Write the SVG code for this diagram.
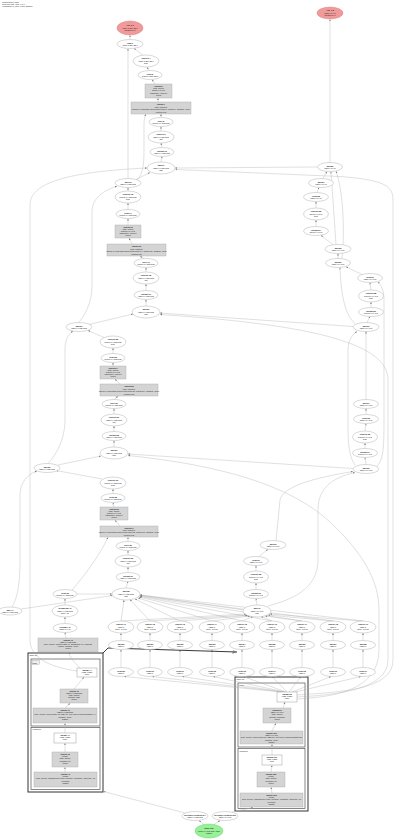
<svg xmlns="http://www.w3.org/2000/svg" width="400" height="839" viewBox="0 0 400 839">
<style>
.e{fill:#fff;stroke:#a0a0a0;stroke-width:.4}
.pr{fill:#f29a9a;stroke:#c77;stroke-width:.4}
.gr{fill:#98f098;stroke:#5c5;stroke-width:.4}
.bx{fill:#d4d4d4;stroke:#a8a8a8;stroke-width:.4}
.wb{fill:#fff;stroke:#888;stroke-width:.4}
.cl{fill:none;stroke:#333;stroke-width:1}
.ci{fill:none;stroke:#555;stroke-width:.7}
text{font-family:"Liberation Sans",Arial,sans-serif;font-size:2.1px;fill:#222;text-anchor:middle}
.h{font-weight:bold}
.l{text-anchor:start}
#edges path{fill:none;stroke:#b0b0b0;stroke-width:.4;marker-end:url(#a)}
#edges path.k{stroke:#222;stroke-width:.9}
</style>
<defs>
<marker id="a" viewBox="0 0 10 10" refX="10" refY="5" markerWidth="5" markerHeight="5" orient="auto"><path d="M0,1L10,5L0,9z" fill="#777"/></marker>
</defs>
<g id="header">
<text class="l" x="2" y="2.6">computation_main</text>
<text class="l" x="2" y="4.8">Unrolled loop, step 4 of 4</text>
<text class="l" x="2" y="7">HloModule jit_step, entry: ENTRY</text>
</g>
<g id="clusters">
<rect class="cl" x="28" y="653" width="75" height="139"/>
<rect class="ci" x="31" y="659" width="69" height="67"/>
<rect class="ci" x="31" y="727.5" width="69" height="62"/>
<text class="l" x="29.5" y="656">while.12</text>
<rect x="32" y="660.5" width="7.5" height="4" fill="#eee" stroke="#888" stroke-width=".3"/>
<text class="l" x="32.5" y="663.5">body</text>
<text class="l" x="32.5" y="730">condition</text>
<rect class="cl" x="235" y="677" width="73" height="134"/>
<rect class="ci" x="238" y="683" width="67" height="64"/>
<rect class="ci" x="238" y="748.5" width="67" height="60"/>
<text class="l" x="236.5" y="680">while.13</text>
<text class="l" x="239.5" y="686">body</text>
<text class="l" x="239.5" y="751.5">condition</text>
</g>
<g id="edges">
<path d="M130,39.5L130,35.3"/>
<path d="M143,55.3L134,48.3"/>
<path d="M149,70.5L147,67.2"/>
<path d="M155,84L152,79.5"/>
<path d="M158,102L158,98"/>
<path d="M161,117.5L161,114"/>
<path d="M161,131L161,126.5"/>
<path d="M162,147.5L161,143"/>
<path d="M161,162L162,156.5"/>
<path d="M128,178.5L128,48.6"/>
<path d="M136,179.5L150,172.5"/>
<path d="M137,180C143,174 144,165 144,150L144,125C144,119 145,116 146,114.2"/>
<path d="M128,191L128,187.5"/>
<path d="M128,209.5L128,203"/>
<path d="M128,225L128,218.5"/>
<path d="M132,244L129,238.2"/>
<path d="M144,258.5L140,256.2"/>
<path d="M146,272L146,267.5"/>
<path d="M146,290.5L146,284"/>
<path d="M146,306L146,299.5"/>
<path d="M89,324.5L133,314"/>
<path d="M79,322.5C84,315 92,305 92,285L92,212C92,198 104,190 117,186.3"/>
<path d="M104,337.5L88,330.5"/>
<path d="M113,353.5L113,348"/>
<path d="M113,366L113,362.5"/>
<path d="M120,384L115,379.2"/>
<path d="M114,399.5L118,396.2"/>
<path d="M114,414L114,408.5"/>
<path d="M114,431.5L114,426"/>
<path d="M114,447L114,440.5"/>
<path d="M58,465L101,456"/>
<path d="M48,463.5C56,455 65,440 65,420L65,350C65,340 68,334 73,331.2"/>
<path d="M102,479L56,470.5"/>
<path d="M113,493.5L113,489"/>
<path d="M114,507L113,502.5"/>
<path d="M120,526L115,520.2"/>
<path d="M128,541.5L128,537.2"/>
<path d="M128,555L128,550.5"/>
<path d="M128,572.5L128,567"/>
<path d="M126,588L128,581.5"/>
<path d="M21,609L112.5,595.5"/>
<path d="M12,607C16,600 20,590 20,560L20,495C20,482 28,474 37,471"/>
<path d="M77,594L112,594"/>
<path d="M72,590C85,575 100,555 108,537.2"/>
<path d="M65,605L65,598.5"/>
<path d="M65,623.5L65,617"/>
<path d="M66,638L65,632.5"/>
<path d="M80,668C74,662 70,658 69,652.2"/>
<path d="M77,671C55,668 30,660 30,640L30,205C30,185 60,172 147,168"/>
<path d="M74,689L84,677.2"/>
<path d="M65,708L70,703.2"/>
<path d="M65,733L65,723.2"/>
<path d="M65,752L65,743.2"/>
<path d="M65,772L65,767.2"/>
<path d="M330,162.5L330,19.3"/>
<path d="M323,178.5L327,171.5"/>
<path d="M317,192.5L319,187.5"/>
<path d="M316,208L316,201.5"/>
<path d="M316,226.5L316,220"/>
<path d="M333,244.8L321,235.3"/>
<path d="M336,244.5L331,171.5"/>
<path d="M338,258.5L338,253.5"/>
<path d="M342,258.5C345,230 343,190 336,171.3"/>
<path d="M362,274.5L346,266.8"/>
<path d="M371,290L370,282.5"/>
<path d="M371,307.5L371,302"/>
<path d="M367,322.5L370,316.5"/>
<path d="M355,323.5C345,315 341,295 340,267.5"/>
<path d="M366,399.5L366,331.5"/>
<path d="M366,414.5L366,408.5"/>
<path d="M365,431L366,423.5"/>
<path d="M365,448.5L365,443"/>
<path d="M366,464.5L365,457.5"/>
<path d="M355,465C348,455 348,440 348,420L348,350C348,340 352,335 357,331.5"/>
<path d="M377,466C383,460 384,450 384,420L384,300C384,290 381,285 378,282"/>
<path d="M276,540.5L280,500C282,490 300,480 353,471.5"/>
<path d="M268,606C290,600 318,590 318,560L318,510C318,490 330,478 355,472.5"/>
<path d="M259,556.5L268,549.3"/>
<path d="M256,571L256,565.5"/>
<path d="M256,589.5L256,583"/>
<path d="M257,605L256,598.5"/>
<path d="M317.5,167L175,168"/>
<path d="M353,326.5L160,313"/>
<path d="M353,468.5L128,454"/>
<path d="M244,610L140,595"/>
<path d="M297,695C340,692 393,690 393,660L393,200C393,186 385,180 340,176.5L175.5,169.5"/>
<path d="M297,697C335,695 388,690 388,660L388,380C388,345 320,325 160,314.5"/>
<path d="M297,699C330,697 379,692 379,650L379,610C379,580 362,552 330,522C290,485 220,465 128,455.5"/>
<path d="M121,621L124,600"/>
<path d="M150,621L130,599.5"/>
<path d="M180,621L135,599"/>
<path d="M212,621L138,598"/>
<path d="M242,621L139,597"/>
<path d="M272,621L140,596.5"/>
<path d="M302,621L140,596"/>
<path d="M333,621L140,595.5"/>
<path d="M363,621L140,595"/>
<path d="M121,621L246,614"/>
<path d="M150,621L247,615"/>
<path d="M180,621L248,615.5"/>
<path d="M212,621L250,616"/>
<path d="M242,621L253,616.5"/>
<path d="M272,621L261,616.5"/>
<path d="M302,621L265,616"/>
<path d="M333,621L268,615"/>
<path d="M363,621L270,614"/>
<path d="M121,640.5L121,633"/>
<path d="M150,640.5L150,633"/>
<path d="M180,640.5L180,633"/>
<path d="M212,640.5L212,633"/>
<path d="M242,640.5L242,633"/>
<path d="M272,640.5L272,633"/>
<path d="M302,640.5L302,633"/>
<path d="M333,640.5L333,633"/>
<path d="M363,640.5L363,633"/>
<path d="M121,667.5L121,649.5"/>
<path d="M150,667.5L150,649.5"/>
<path d="M180,667.5L180,649.5"/>
<path d="M212,667.5L212,649.5"/>
<path d="M242,667.5L242,649.5"/>
<path d="M272,667.5L272,649.5"/>
<path d="M302,667.5L302,649.5"/>
<path d="M333,667.5L333,649.5"/>
<path d="M363,667.5L363,649.5"/>
<path d="M282,692L124,676.5"/>
<path d="M283,692L152,676.5"/>
<path d="M284,692L182,676.5"/>
<path d="M285,692L213,676.5"/>
<path d="M286,692L243,676.5"/>
<path d="M287,692L272,676.5"/>
<path d="M289,692L301,676.5"/>
<path d="M292,692L331,676.5"/>
<path d="M295,692L361,676.5"/>
<path class="k" d="M103,653L108,648L237,652"/>
<path d="M283,708L285,702.2"/>
<path d="M272,731L276,723.2"/>
<path d="M272,755L272,744.2"/>
<path d="M271,772L272,765.2"/>
<path d="M272,793L271,787.2"/>
<path d="M185,813L103.5,791.5"/>
<path d="M232,812L253,807.5"/>
<path d="M204,824.5L199,820.6"/>
<path d="M214,824.5L220,820.6"/>
</g>
<g id="P0"><ellipse class="pr" cx="130" cy="28" rx="13" ry="7"/><text class="h" x="130" y="26.4">Arg_0.1</text><text x="130" y="28.7">f32[1,3,224,224]</text><text x="130" y="31">parameter 0</text></g>
<g id="n1"><ellipse class="e" cx="130" cy="44" rx="13" ry="4.5"/><text class="h" x="130" y="43.6">add.3</text><text x="130" y="46">f32[1,3,224,224]</text></g>
<g id="n2"><ellipse class="e" cx="146" cy="61" rx="13" ry="6"/><text class="h" x="146" y="59.4">convert.4</text><text x="146" y="61.7">f32[1,3,224,224]</text><text x="146" y="64">bf16</text></g>
<g id="n3"><ellipse class="e" cx="150" cy="75" rx="12" ry="4.5"/><text class="h" x="150" y="74.6">copy.5</text><text x="150" y="77">bf16[1,3,224,224]</text></g>
<g id="g1"><rect class="bx" x="145" y="84" width="27" height="14"/><text class="h" x="158.5" y="86.6">fusion.6</text><text x="158.5" y="88.9">kind=kLoop</text><text x="158.5" y="91.2">bf16[64,3,7,7]</text><text x="158.5" y="93.5">transpose, convert</text><text x="158.5" y="95.8">fused</text></g>
<g id="w1"><rect class="bx" x="131" y="102" width="60" height="12"/><text class="h" x="161" y="105">fusion.7</text><text x="161" y="107.5">kind=kOutput</text><text x="161" y="110">bf16[1,64,112,112] convolution(copy.5, fusion.6), window={7x7}</text><text x="161" y="112.5">custom-call</text></g>
<g id="n4"><ellipse class="e" cx="161" cy="122" rx="12" ry="4.5"/><text class="h" x="161" y="121.6">slice.8</text><text x="161" y="124">bf16[1,64,112,112]</text></g>
<g id="n5"><ellipse class="e" cx="161" cy="137" rx="13" ry="6"/><text class="h" x="161" y="135.4">convert.9</text><text x="161" y="137.7">f32[1,64,112,112]</text><text x="161" y="140">f32</text></g>
<g id="n6"><ellipse class="e" cx="162" cy="152" rx="12" ry="4.5"/><text class="h" x="162" y="151.6">bitcast.10</text><text x="162" y="154">f32[1,64,112,112]</text></g>
<g id="add1"><ellipse class="e" cx="161" cy="168" rx="14" ry="6"/><text class="h" x="161" y="166.4">add.11</text><text x="161" y="168.7">f32[1,64,112,112]</text><text x="161" y="171">add</text></g>
<g id="n7"><ellipse class="e" cx="128" cy="183" rx="13" ry="4.5"/><text class="h" x="128" y="182.6">add.12</text><text x="128" y="185">f32[1,64,112,112]</text></g>
<g id="n8"><ellipse class="e" cx="128" cy="197" rx="13" ry="6"/><text class="h" x="128" y="195.4">convert.13</text><text x="128" y="197.7">bf16[1,64,112,112]</text><text x="128" y="200">bf16</text></g>
<g id="n9"><ellipse class="e" cx="128" cy="214" rx="12" ry="4.5"/><text class="h" x="128" y="213.6">copy.14</text><text x="128" y="216">bf16[1,64,112,112]</text></g>
<g id="g2"><rect class="bx" x="115" y="225" width="26" height="13"/><text class="h" x="128" y="227.5">fusion.15</text><text x="128" y="229.7">kind=kLoop</text><text x="128" y="231.9">bf16[64,64,3,3]</text><text x="128" y="234.1">transpose, convert</text><text x="128" y="236.3">fused</text></g>
<g id="w2"><rect class="bx" x="107" y="244" width="59" height="12"/><text class="h" x="136.5" y="247">fusion.16</text><text x="136.5" y="249.5">kind=kOutput</text><text x="136.5" y="252">bf16[1,64,112,112] convolution(copy.14, fusion.15), window={3x3}</text><text x="136.5" y="254.5">custom-call</text></g>
<g id="n10"><ellipse class="e" cx="146" cy="263" rx="12" ry="4.5"/><text class="h" x="146" y="262.6">slice.17</text><text x="146" y="265">bf16[1,64,112,112]</text></g>
<g id="n11"><ellipse class="e" cx="146" cy="278" rx="13" ry="6"/><text class="h" x="146" y="276.4">convert.18</text><text x="146" y="278.7">f32[1,64,112,112]</text><text x="146" y="281">f32</text></g>
<g id="n12"><ellipse class="e" cx="146" cy="295" rx="12" ry="4.5"/><text class="h" x="146" y="294.6">bitcast.19</text><text x="146" y="297">f32[1,64,112,112]</text></g>
<g id="add2"><ellipse class="e" cx="146" cy="312" rx="14" ry="6"/><text class="h" x="146" y="310.4">add.20</text><text x="146" y="312.7">f32[1,64,112,112]</text><text x="146" y="315">add</text></g>
<g id="n13"><ellipse class="e" cx="79" cy="327" rx="13" ry="4.5"/><text class="h" x="79" y="326.6">add.21</text><text x="79" y="329">f32[1,64,112,112]</text></g>
<g id="n14"><ellipse class="e" cx="113" cy="342" rx="13" ry="6"/><text class="h" x="113" y="340.4">convert.22</text><text x="113" y="342.7">bf16[1,64,112,112]</text><text x="113" y="345">bf16</text></g>
<g id="n15"><ellipse class="e" cx="113" cy="358" rx="12" ry="4.5"/><text class="h" x="113" y="357.6">copy.23</text><text x="113" y="360">bf16[1,64,112,112]</text></g>
<g id="g3"><rect class="bx" x="100" y="366" width="26" height="13"/><text class="h" x="113" y="368.5">fusion.24</text><text x="113" y="370.7">kind=kLoop</text><text x="113" y="372.9">bf16[64,64,3,3]</text><text x="113" y="375.1">transpose, convert</text><text x="113" y="377.3">fused</text></g>
<g id="w3"><rect class="bx" x="100" y="384" width="58" height="12"/><text class="h" x="129" y="387">fusion.25</text><text x="129" y="389.5">kind=kOutput</text><text x="129" y="392">bf16[1,64,112,112] convolution(copy.23, fusion.24), window={3x3}</text><text x="129" y="394.5">custom-call</text></g>
<g id="n16"><ellipse class="e" cx="114" cy="404" rx="12" ry="4.5"/><text class="h" x="114" y="403.6">slice.26</text><text x="114" y="406">bf16[1,64,112,112]</text></g>
<g id="n17"><ellipse class="e" cx="114" cy="420" rx="13" ry="6"/><text class="h" x="114" y="418.4">convert.27</text><text x="114" y="420.7">f32[1,64,112,112]</text><text x="114" y="423">f32</text></g>
<g id="n18"><ellipse class="e" cx="114" cy="436" rx="12" ry="4.5"/><text class="h" x="114" y="435.6">bitcast.28</text><text x="114" y="438">f32[1,64,112,112]</text></g>
<g id="add3"><ellipse class="e" cx="114" cy="453" rx="14" ry="6"/><text class="h" x="114" y="451.4">add.29</text><text x="114" y="453.7">f32[1,64,112,112]</text><text x="114" y="456">add</text></g>
<g id="n19"><ellipse class="e" cx="47" cy="468" rx="13" ry="4.5"/><text class="h" x="47" y="467.6">add.30</text><text x="47" y="470">f32[1,64,112,112]</text></g>
<g id="n20"><ellipse class="e" cx="113" cy="483" rx="13" ry="6"/><text class="h" x="113" y="481.4">convert.31</text><text x="113" y="483.7">bf16[1,64,112,112]</text><text x="113" y="486">bf16</text></g>
<g id="n21"><ellipse class="e" cx="113" cy="498" rx="12" ry="4.5"/><text class="h" x="113" y="497.6">copy.32</text><text x="113" y="500">bf16[1,64,112,112]</text></g>
<g id="g4"><rect class="bx" x="100" y="507" width="28" height="13"/><text class="h" x="114" y="509.5">fusion.33</text><text x="114" y="511.7">kind=kLoop</text><text x="114" y="513.9">bf16[64,64,3,3]</text><text x="114" y="516.1">transpose, convert</text><text x="114" y="518.3">fused</text></g>
<g id="w4"><rect class="bx" x="100" y="526" width="58" height="11"/><text class="h" x="129" y="528.6">fusion.34</text><text x="129" y="531">kind=kOutput</text><text x="129" y="533.4">bf16[1,64,112,112] convolution(copy.32, fusion.33), window={3x3}</text><text x="129" y="535.8">custom-call</text></g>
<g id="n22"><ellipse class="e" cx="128" cy="546" rx="12" ry="4.5"/><text class="h" x="128" y="545.6">slice.35</text><text x="128" y="548">bf16[1,64,112,112]</text></g>
<g id="n23"><ellipse class="e" cx="128" cy="561" rx="13" ry="6"/><text class="h" x="128" y="559.4">convert.36</text><text x="128" y="561.7">f32[1,64,112,112]</text><text x="128" y="564">f32</text></g>
<g id="n24"><ellipse class="e" cx="128" cy="577" rx="12" ry="4.5"/><text class="h" x="128" y="576.6">bitcast.37</text><text x="128" y="579">f32[1,64,112,112]</text></g>
<g id="add4"><ellipse class="e" cx="126" cy="594" rx="14" ry="6"/><text class="h" x="126" y="592.4">add.38</text><text x="126" y="594.7">f32[1,64,112,112]</text><text x="126" y="597">add</text></g>
<g id="n25"><ellipse class="e" cx="65" cy="594" rx="12" ry="4.5"/><text class="h" x="65" y="593.6">copy.39</text><text x="65" y="596">bf16[1,64,112,112]</text></g>
<g id="n26"><ellipse class="e" cx="65" cy="611" rx="13" ry="6"/><text class="h" x="65" y="609.4">broadcast.40</text><text x="65" y="611.7">f32[1,64,112,112]</text><text x="65" y="614">dims={1}</text></g>
<g id="n27"><ellipse class="e" cx="10" cy="611" rx="12" ry="4"/><text class="h" x="10" y="610.6">add.41</text><text x="10" y="613">f32[1,64,112,112]</text></g>
<g id="n28"><ellipse class="e" cx="65" cy="628" rx="12" ry="4.5"/><text class="h" x="65" y="627.6">reshape.42</text><text x="65" y="630">f32[1,64,1,1]</text></g>
<g id="w5"><rect class="bx" x="38" y="638" width="60" height="14"/><text class="h" x="68" y="640.6">fusion.43</text><text x="68" y="642.8">f32[1,64,112,112]</text><text x="68" y="645">kind=kLoop, multiply(add.41, broadcast.40), subtract</text><text x="68" y="647.2">reduce, window={1x1}</text><text x="68" y="649.4">fused</text></g>
<g id="Lt1"><rect class="wb" x="77" y="668" width="20" height="9"/><text class="h" x="87" y="670.6">param.44</text><text x="87" y="672.8">(f32[], s32[])</text><text x="87" y="675">tuple</text></g>
<g id="Lg1"><rect class="bx" x="60" y="689" width="28" height="14"/><text class="h" x="74" y="691.6">fusion.45</text><text x="74" y="693.8">f32[1,64,112,112]</text><text x="74" y="696">kind=kLoop</text><text x="74" y="698.2">multiply, add</text><text x="74" y="700.4">fused</text></g>
<g id="Lw1"><rect class="bx" x="33" y="708" width="64" height="15"/><text class="h" x="65" y="710.8">fusion.46</text><text x="65" y="713.1">f32[1,64,112,112]</text><text x="65" y="715.4">kind=kLoop, tuple(fusion.45, add.41), get-tuple-element(param.44)</text><text x="65" y="717.7">window={1x1}</text><text x="65" y="720">ROOT</text></g>
<g id="Lt2"><rect class="wb" x="54" y="733" width="22" height="10"/><text class="h" x="65" y="735.8">param.47</text><text x="65" y="738">(f32[], s32[])</text><text x="65" y="740.2">tuple</text></g>
<g id="Lg2"><rect class="bx" x="52" y="752" width="26" height="15"/><text class="h" x="65" y="754.8">fusion.48</text><text x="65" y="757.1">pred[]</text><text x="65" y="759.4">kind=kLoop</text><text x="65" y="761.7">compare LT</text><text x="65" y="764">fused</text></g>
<g id="Lw2"><rect class="bx" x="34" y="772" width="63" height="15"/><text class="h" x="65.5" y="774.8">fusion.49</text><text x="65.5" y="777.1">pred[]</text><text x="65.5" y="779.4">kind=kLoop, compare(get-tuple-element, constant), direction=LT</text><text x="65.5" y="781.7">constant</text><text x="65.5" y="784">ROOT</text></g>
<g id="P1"><ellipse class="pr" cx="330" cy="13" rx="13" ry="6"/><text class="h" x="330" y="11.4">Arg_1.2</text><text x="330" y="13.7">f32[64,3,7,7]</text><text x="330" y="16">parameter 1</text></g>
<g id="r1"><ellipse class="e" cx="330" cy="167" rx="12.5" ry="4.5"/><text class="h" x="330" y="166.6">add.50</text><text x="330" y="169">f32[64,3,7,7]</text></g>
<g id="r2"><ellipse class="e" cx="321" cy="183" rx="12.5" ry="4.5"/><text class="h" x="321" y="182.6">add.51</text><text x="321" y="185">f32[64,3,7,7]</text></g>
<g id="r3"><ellipse class="e" cx="316" cy="197" rx="12.5" ry="4.5"/><text class="h" x="316" y="196.6">copy.52</text><text x="316" y="199">f32[64,3,7,7]</text></g>
<g id="r4"><ellipse class="e" cx="316" cy="214" rx="12.5" ry="6"/><text class="h" x="316" y="212.4">convert.53</text><text x="316" y="214.7">bf16[64,3,7,7]</text><text x="316" y="217">bf16</text></g>
<g id="r5"><ellipse class="e" cx="316" cy="231" rx="12.5" ry="4.5"/><text class="h" x="316" y="230.6">bitcast.54</text><text x="316" y="233">bf16[64,3,7,7]</text></g>
<g id="radd1"><ellipse class="e" cx="338" cy="249" rx="13" ry="4.5"/><text class="h" x="338" y="248.6">add.55</text><text x="338" y="251">f32[64,64,3,3]</text></g>
<g id="r6"><ellipse class="e" cx="338" cy="263" rx="12.5" ry="4.5"/><text class="h" x="338" y="262.6">add.56</text><text x="338" y="265">f32[64,64,3,3]</text></g>
<g id="r7"><ellipse class="e" cx="370" cy="278" rx="12.5" ry="4.5"/><text class="h" x="370" y="277.6">copy.57</text><text x="370" y="280">f32[64,64,3,3]</text></g>
<g id="r8"><ellipse class="e" cx="371" cy="296" rx="12.5" ry="6"/><text class="h" x="371" y="294.4">convert.58</text><text x="371" y="296.7">bf16[64,64,3,3]</text><text x="371" y="299">bf16</text></g>
<g id="r9"><ellipse class="e" cx="371" cy="312" rx="12.5" ry="4.5"/><text class="h" x="371" y="311.6">bitcast.59</text><text x="371" y="314">bf16[64,64,3,3]</text></g>
<g id="radd2"><ellipse class="e" cx="366" cy="327" rx="13" ry="4.5"/><text class="h" x="366" y="326.6">add.60</text><text x="366" y="329">f32[64,64,3,3]</text></g>
<g id="r10"><ellipse class="e" cx="366" cy="404" rx="12.5" ry="4.5"/><text class="h" x="366" y="403.6">add.61</text><text x="366" y="406">f32[64,64,3,3]</text></g>
<g id="r11"><ellipse class="e" cx="366" cy="419" rx="12.5" ry="4.5"/><text class="h" x="366" y="418.6">copy.62</text><text x="366" y="421">f32[64,64,3,3]</text></g>
<g id="r12"><ellipse class="e" cx="365" cy="437" rx="12.5" ry="6"/><text class="h" x="365" y="435.4">convert.63</text><text x="365" y="437.7">bf16[64,64,3,3]</text><text x="365" y="440">bf16</text></g>
<g id="r13"><ellipse class="e" cx="365" cy="453" rx="12.5" ry="4.5"/><text class="h" x="365" y="452.6">bitcast.64</text><text x="365" y="455">bf16[64,64,3,3]</text></g>
<g id="radd3"><ellipse class="e" cx="366" cy="469" rx="13" ry="4.5"/><text class="h" x="366" y="468.6">add.65</text><text x="366" y="471">f32[64,64,3,3]</text></g>
<g id="r14"><ellipse class="e" cx="273" cy="545" rx="13" ry="4.5"/><text class="h" x="273" y="544.6">add.66</text><text x="273" y="547">f32[64,64,3,3]</text></g>
<g id="r15"><ellipse class="e" cx="256" cy="561" rx="12.5" ry="4.5"/><text class="h" x="256" y="560.6">copy.67</text><text x="256" y="563">f32[64,64,3,3]</text></g>
<g id="r16"><ellipse class="e" cx="256" cy="577" rx="12.5" ry="6"/><text class="h" x="256" y="575.4">convert.68</text><text x="256" y="577.7">bf16[64,64,3,3]</text><text x="256" y="580">bf16</text></g>
<g id="r17"><ellipse class="e" cx="256" cy="594" rx="12.5" ry="4.5"/><text class="h" x="256" y="593.6">bitcast.69</text><text x="256" y="596">bf16[64,64,3,3]</text></g>
<g id="radd4"><ellipse class="e" cx="257" cy="611" rx="14" ry="6"/><text class="h" x="257" y="609.4">add.70</text><text x="257" y="611.7">f32[64,64,3,3]</text><text x="257" y="614">add</text></g>
<g id="row1">
<g id="q0"><ellipse class="e" cx="121" cy="627" rx="13" ry="6"/><text class="h" x="121" y="625.4">reduce.71</text><text x="121" y="627.7">f32[64]</text><text x="121" y="630">dims={0,2,3}</text></g>
<g id="q1"><ellipse class="e" cx="150" cy="627" rx="13" ry="6"/><text class="h" x="150" y="625.4">reduce.72</text><text x="150" y="627.7">f32[64]</text><text x="150" y="630">dims={0,2,3}</text></g>
<g id="q2"><ellipse class="e" cx="180" cy="627" rx="13" ry="6"/><text class="h" x="180" y="625.4">reduce.73</text><text x="180" y="627.7">f32[64]</text><text x="180" y="630">dims={0,2,3}</text></g>
<g id="q3"><ellipse class="e" cx="212" cy="627" rx="13" ry="6"/><text class="h" x="212" y="625.4">reduce.74</text><text x="212" y="627.7">f32[64]</text><text x="212" y="630">dims={0,2,3}</text></g>
<g id="q4"><ellipse class="e" cx="242" cy="627" rx="13" ry="6"/><text class="h" x="242" y="625.4">reduce.75</text><text x="242" y="627.7">f32[64]</text><text x="242" y="630">dims={0,2,3}</text></g>
<g id="q5"><ellipse class="e" cx="272" cy="627" rx="13" ry="6"/><text class="h" x="272" y="625.4">reduce.76</text><text x="272" y="627.7">f32[64]</text><text x="272" y="630">dims={0,2,3}</text></g>
<g id="q6"><ellipse class="e" cx="302" cy="627" rx="13" ry="6"/><text class="h" x="302" y="625.4">reduce.77</text><text x="302" y="627.7">f32[64]</text><text x="302" y="630">dims={0,2,3}</text></g>
<g id="q7"><ellipse class="e" cx="333" cy="627" rx="13" ry="6"/><text class="h" x="333" y="625.4">reduce.78</text><text x="333" y="627.7">f32[64]</text><text x="333" y="630">dims={0,2,3}</text></g>
<g id="q8"><ellipse class="e" cx="363" cy="627" rx="13" ry="6"/><text class="h" x="363" y="625.4">reduce.79</text><text x="363" y="627.7">f32[64]</text><text x="363" y="630">dims={0,2,3}</text></g>
</g>
<g id="row2">
<g id="s0"><ellipse class="e" cx="121" cy="645" rx="12.5" ry="4.5"/><text class="h" x="121" y="644.6">add.80</text><text x="121" y="647">f32[64]</text></g>
<g id="s1"><ellipse class="e" cx="150" cy="645" rx="12.5" ry="4.5"/><text class="h" x="150" y="644.6">add.81</text><text x="150" y="647">f32[64]</text></g>
<g id="s2"><ellipse class="e" cx="180" cy="645" rx="12.5" ry="4.5"/><text class="h" x="180" y="644.6">add.82</text><text x="180" y="647">f32[64]</text></g>
<g id="s3"><ellipse class="e" cx="212" cy="645" rx="12.5" ry="4.5"/><text class="h" x="212" y="644.6">add.83</text><text x="212" y="647">f32[64]</text></g>
<g id="s4"><ellipse class="e" cx="242" cy="645" rx="12.5" ry="4.5"/><text class="h" x="242" y="644.6">add.84</text><text x="242" y="647">f32[64]</text></g>
<g id="s5"><ellipse class="e" cx="272" cy="645" rx="12.5" ry="4.5"/><text class="h" x="272" y="644.6">add.85</text><text x="272" y="647">f32[64]</text></g>
<g id="s6"><ellipse class="e" cx="302" cy="645" rx="12.5" ry="4.5"/><text class="h" x="302" y="644.6">add.86</text><text x="302" y="647">f32[64]</text></g>
<g id="s7"><ellipse class="e" cx="333" cy="645" rx="12.5" ry="4.5"/><text class="h" x="333" y="644.6">add.87</text><text x="333" y="647">f32[64]</text></g>
<g id="s8"><ellipse class="e" cx="363" cy="645" rx="12.5" ry="4.5"/><text class="h" x="363" y="644.6">add.88</text><text x="363" y="647">f32[64]</text></g>
</g>
<g id="row3">
<g id="u0"><ellipse class="e" cx="121" cy="672" rx="12.5" ry="4.5"/><text class="h" x="121" y="671.6">copy.89</text><text x="121" y="674">f32[64]</text></g>
<g id="u1"><ellipse class="e" cx="150" cy="672" rx="12.5" ry="4.5"/><text class="h" x="150" y="671.6">copy.90</text><text x="150" y="674">f32[64]</text></g>
<g id="u2"><ellipse class="e" cx="180" cy="672" rx="12.5" ry="4.5"/><text class="h" x="180" y="671.6">copy.91</text><text x="180" y="674">f32[64]</text></g>
<g id="u3"><ellipse class="e" cx="212" cy="672" rx="12.5" ry="4.5"/><text class="h" x="212" y="671.6">copy.92</text><text x="212" y="674">f32[64]</text></g>
<g id="u4"><ellipse class="e" cx="242" cy="672" rx="12.5" ry="4.5"/><text class="h" x="242" y="671.6">copy.93</text><text x="242" y="674">f32[64]</text></g>
<g id="u5"><ellipse class="e" cx="272" cy="672" rx="12.5" ry="4.5"/><text class="h" x="272" y="671.6">copy.94</text><text x="272" y="674">f32[64]</text></g>
<g id="u6"><ellipse class="e" cx="302" cy="672" rx="12.5" ry="4.5"/><text class="h" x="302" y="671.6">copy.95</text><text x="302" y="674">f32[64]</text></g>
<g id="u7"><ellipse class="e" cx="333" cy="672" rx="12.5" ry="4.5"/><text class="h" x="333" y="671.6">copy.96</text><text x="333" y="674">f32[64]</text></g>
<g id="u8"><ellipse class="e" cx="363" cy="672" rx="12.5" ry="4.5"/><text class="h" x="363" y="671.6">copy.97</text><text x="363" y="674">f32[64]</text></g>
</g>
<g id="Rt1"><rect class="wb" x="277" y="692" width="20" height="10"/><text class="h" x="287" y="694.8">param.98</text><text x="287" y="697">(f32[], s32[])</text><text x="287" y="699.2">tuple</text></g>
<g id="Rg1"><rect class="bx" x="263" y="708" width="28" height="15"/><text class="h" x="277" y="710.8">fusion.99</text><text x="277" y="713.1">f32[64,64,3,3]</text><text x="277" y="715.4">kind=kLoop</text><text x="277" y="717.7">multiply, subtract</text><text x="277" y="720">fused</text></g>
<g id="Rw1"><rect class="bx" x="240" y="731" width="63" height="13"/><text class="h" x="271.5" y="733.6">fusion.100</text><text x="271.5" y="735.9">f32[64,64,3,3]</text><text x="271.5" y="738.2">kind=kLoop, tuple(fusion.99, add.70), get-tuple-element(param.98)</text><text x="271.5" y="740.5">window={1x1}</text><text x="271.5" y="742.8">ROOT</text></g>
<g id="Rt2"><rect class="wb" x="262" y="755" width="20" height="10"/><text class="h" x="272" y="757.8">param.101</text><text x="272" y="760">(f32[], s32[])</text><text x="272" y="762.2">tuple</text></g>
<g id="Rg2"><rect class="bx" x="257" y="772" width="28" height="15"/><text class="h" x="271" y="774.8">fusion.102</text><text x="271" y="777.1">pred[]</text><text x="271" y="779.4">kind=kLoop</text><text x="271" y="781.7">compare LT</text><text x="271" y="784">fused</text></g>
<g id="Rw2"><rect class="bx" x="240" y="793" width="63" height="14"/><text class="h" x="271.5" y="795.7">fusion.103</text><text x="271.5" y="798">pred[]</text><text x="271.5" y="800.3">kind=kLoop, compare(get-tuple-element, constant), direction=LT</text><text x="271.5" y="802.6">constant</text><text x="271.5" y="804.9">ROOT</text></g>
<g id="b1"><ellipse class="e" cx="195" cy="816" rx="13" ry="4.5"/><text class="h" x="195" y="815.6">get-tuple-element.104</text><text x="195" y="818">f32[1,64,112,112]</text></g>
<g id="b2"><ellipse class="e" cx="225" cy="816" rx="13" ry="4.5"/><text class="h" x="225" y="815.6">get-tuple-element.105</text><text x="225" y="818">f32[64,64,3,3]</text></g>
<g id="G"><ellipse class="gr" cx="209" cy="831" rx="14" ry="7"/><text class="h" x="209" y="829.4">tuple.106</text><text x="209" y="831.7">(f32[1,64,112,112], f32[])</text><text x="209" y="834">ROOT</text></g>
</svg>
